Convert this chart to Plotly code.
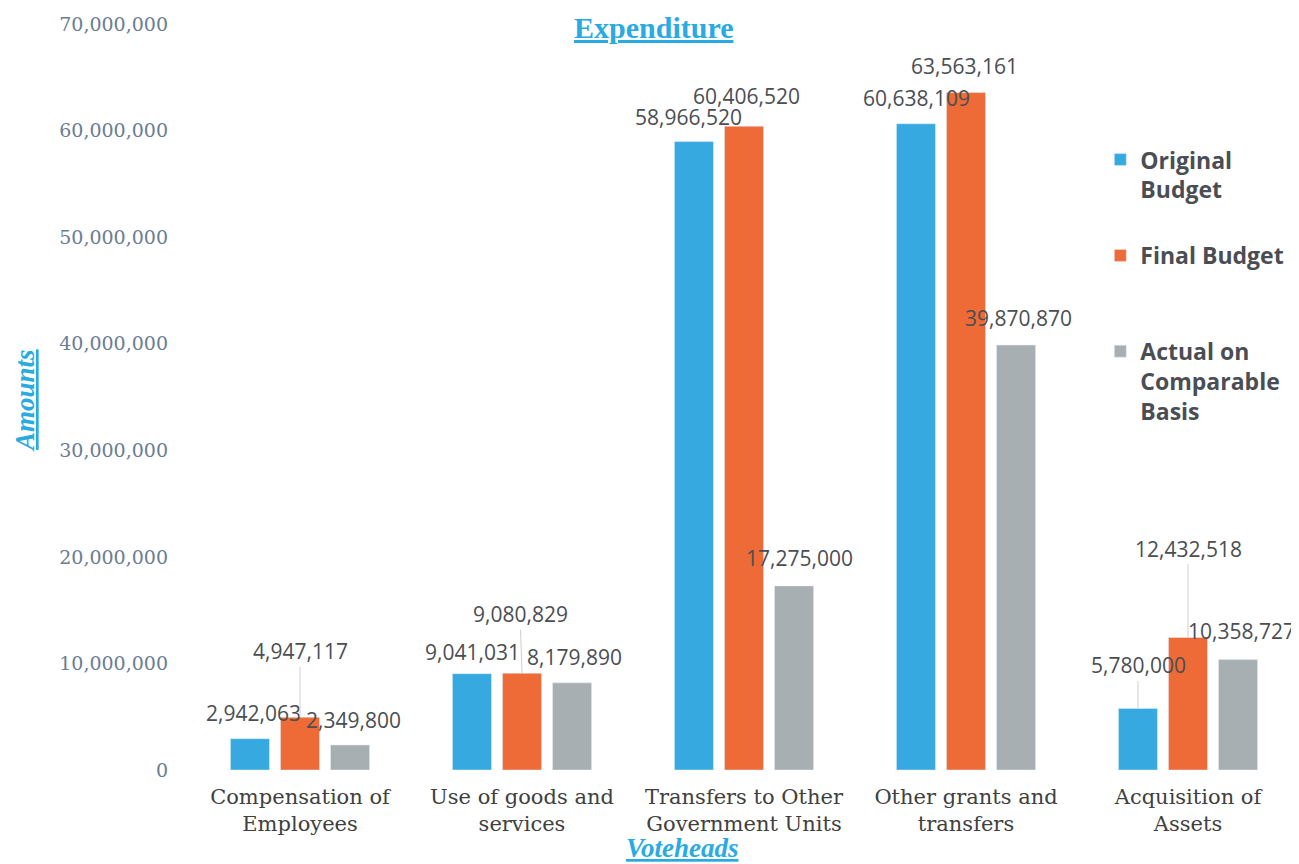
import plotly.graph_objects as go

categories = ["Compensation of<br>Employees", "Use of goods and<br>services",
              "Transfers to Other<br>Government Units", "Other grants and<br>transfers",
              "Acquisition of<br>Assets"]
original_budget = [2942063, 9041031, 58966520, 60638109, 5780000]
final_budget = [4947117, 9080829, 60406520, 63563161, 12432518]
actual_comparable = [2349800, 8179890, 17275000, 39870870, 10358727]
series_names = ["Original<br>Budget", "Final Budget<br> ", "Actual on<br>Comparable<br>Basis"]
y_ticks = [0, 10000000, 20000000, 30000000, 40000000, 50000000, 60000000, 70000000]

colors = ["#36a9e1", "#ee6a36", "#a8afb3"]
series = [original_budget, final_budget, actual_comparable]

# label placement (pixel offsets of label text from bar top), style only
bar_shift = [-50, 0, 50]
label_offsets = [
    [(3, -26), (0, -22), (-6, -25), (0, -26), (0, -43)],
    [(0, -66), (-2, -59), (2, -30), (-2, -27), (0, -89)],
    [(3, -25), (2, -26), (5, -28), (2, -27), (3, -29)],
]
leader = [
    [False, False, False, False, True],
    [True, True, False, False, True],
    [False, False, False, False, False],
]

fig = go.Figure()
for s, (name, vals) in enumerate(zip(series_names, series)):
    fig.add_trace(go.Bar(x=categories, y=vals, name=name, marker_color=colors[s],
                         legendgroup=str(s)))

annotations = []
for s, vals in enumerate(series):
    for i, v in enumerate(vals):
        dx, dy = label_offsets[s][i]
        annotations.append(dict(
            x=categories[i], y=v, xref="x", yref="y", xshift=bar_shift[s],
            text=f"{v:,}", showarrow=True, ax=dx, ay=dy, axref="pixel", ayref="pixel",
            arrowhead=0, arrowwidth=1, standoff=0,
            arrowcolor="#cfcfcf" if leader[s][i] else "rgba(0,0,0,0)",
            font=dict(family="Open Sans", size=21, color="#4a4e54"),
        ))

annotations.append(dict(
    text="<b><u>Expenditure</u></b>", xref="paper", yref="paper",
    x=0.4189, y=1.0201, xanchor="center", yanchor="top", showarrow=False,
    font=dict(family="Liberation Serif", size=30, color="#2aaae2"),
))
annotations.append(dict(
    text="<b><i><u>Amounts</u></i></b>", xref="paper", yref="paper",
    x=-0.1478, y=0.496, xanchor="center", yanchor="middle", textangle=-90, showarrow=False,
    font=dict(family="Liberation Serif", size=27, color="#2aaae2"),
))
annotations.append(dict(
    text="<b><i><u>Voteheads</u></i></b>", xref="paper", yref="paper",
    x=0.445, y=-0.1045, xanchor="center", yanchor="middle", showarrow=False,
    font=dict(family="Liberation Serif", size=27, color="#2aaae2"),
))

fig.update_layout(
    width=1291, height=856,
    margin=dict(l=181, r=0, t=16, b=94),
    paper_bgcolor="white", plot_bgcolor="white",
    barmode="group", bargap=0.3236, bargroupgap=0.22,
    legend=dict(x=0.821, y=0.847, xanchor="left", yanchor="top", valign="top",
                tracegroupgap=33, bgcolor="rgba(255,255,255,0)",
                font=dict(family="Open Sans", size=23, color="#4a4e54", weight="bold")),
    annotations=annotations,
    showlegend=True,
)
fig.update_xaxes(showgrid=False, showline=False, zeroline=False,
                 tickfont=dict(family="DejaVu Serif", size=21, color="#404040"),
                 ticklabelstandoff=12)
fig.update_yaxes(range=[0, 70000000], tickvals=y_ticks,
                 ticktext=[f"{t:,}" for t in y_ticks],
                 showgrid=False, showline=False, zeroline=False,
                 tickfont=dict(family="DejaVu Serif", size=19, color="#6a7d92"),
                 ticklabelstandoff=20)

fig.write_html("out.html")
